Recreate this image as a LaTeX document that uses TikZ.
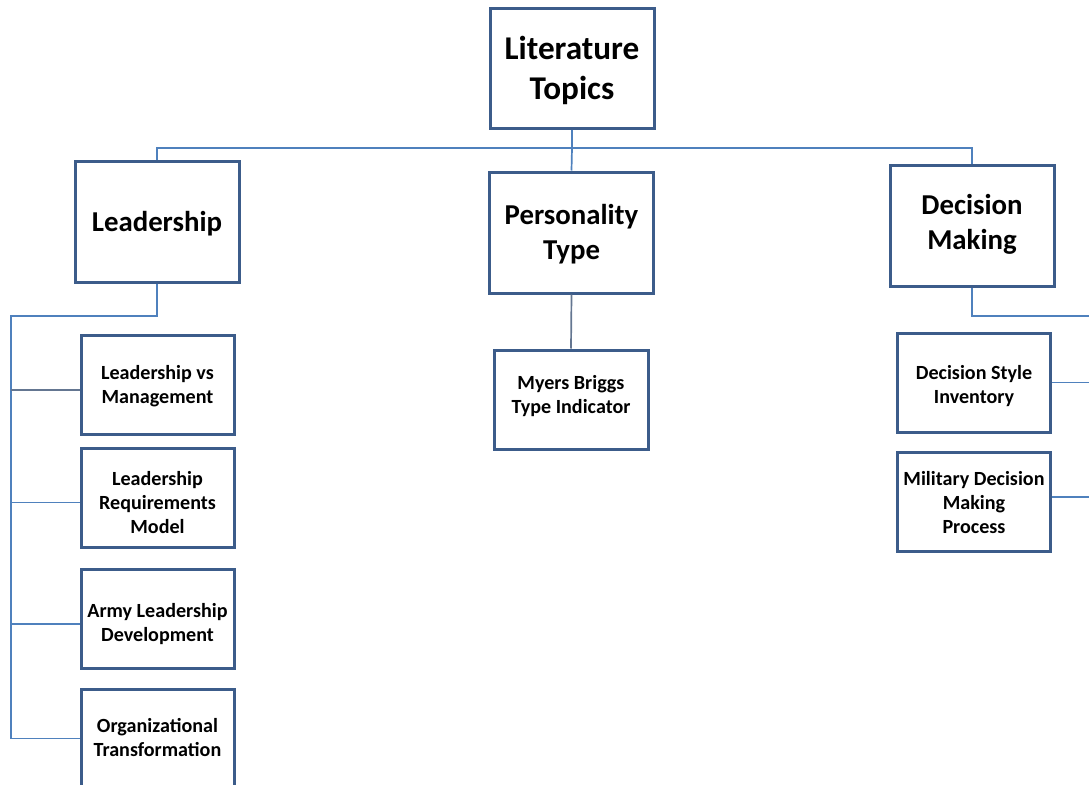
\documentclass[tikz,border=0pt]{standalone}
\usepackage{fontspec}
\setmainfont{Carlito}
\definecolor{boxline}{RGB}{60,92,138}
\definecolor{conn}{RGB}{79,129,189}
\definecolor{conngray}{RGB}{100,118,145}
\newcommand\Tx[2]{\rule{0pt}{\dimexpr 1em+#1pt\relax}#2\rule[\dimexpr -1em+#1pt\relax]{0pt}{0pt}}
\begin{document}
\begin{tikzpicture}[x=1pt,y=-1pt,
  box/.style={draw=boxline,line width=3pt,fill=white,align=center,inner sep=0pt,font=\bfseries},
  topbox/.style={box,minimum width=164pt,minimum height=119pt,font=\fontsize{33.2}{40}\selectfont\bfseries},
  midbox/.style={box,minimum width=164pt,minimum height=121pt,font=\fontsize{28.8}{35}\selectfont\bfseries},
  leafbox/.style={box,minimum width=153pt,minimum height=99pt,font=\fontsize{20.1}{24}\selectfont\bfseries},
  wire/.style={draw=conn,line width=1.7pt},
  wiregray/.style={draw=conngray,line width=1.7pt}]
\clip (0,0) rectangle (1089,784);
\useasboundingbox (0,0) rectangle (1089,784);
% top
\node[topbox] (lit) at (572,68.5) {\Tx{11.2}{Literature\\Topics}};
% level 1
\node[midbox] (lead) at (157,221.5) {\Tx{9.9}{Leadership}};
\node[midbox] (pers) at (571.5,232.5) {\Tx{9.4}{Personality\\Type}};
\node[midbox] (dec) at (972,226) {\Tx{5.8}{Decision\\Making}};
% leadership children
\node[leafbox] (l1) at (157.5,384.5) {\Tx{7.3}{Leadership vs\\Management}};
\node[leafbox] (l2) at (157.5,498) {\Tx{11.3}{Leadership\\Requirements\\Model}};
\node[leafbox] (l3) at (157.5,619) {\Tx{10.8}{Army Leadership\\Development}};
\node[leafbox] (l4) at (157.5,738.5) {\Tx{6.3}{Organizational\\Transformation}};
% personality child
\node[leafbox,minimum width=154pt] (m1) at (571,399.5) {\Tx{2.4}{Myers Briggs\\Type Indicator}};
% decision children
\node[leafbox] (d1) at (974,382.5) {\Tx{9.3}{Decision Style\\Inventory}};
\node[leafbox] (d2) at (974,502) {\Tx{7.8}{Military Decision\\Making\\Process}};
% connectors
\coordinate (bus) at (572,148);
\coordinate (lbus) at (11,316);
\coordinate (rend) at (1089,316);
\draw[wire] (lit.south) -- (bus);
\draw[wire] (lead.north) |- (bus) -| (dec.north);
\draw[wire] (bus) -- (pers.north);
\draw[wiregray] (pers.south) -- (m1.north);
\draw[wire] (lead.south) |- (lbus) -- (lbus |- l4.west);
\draw[wiregray] ([yshift=-5.5pt]l1.west) -- ([yshift=-5.5pt]l1.west -| lbus);
\draw[wire] ([yshift=-4.5pt]l2.west) -- ([yshift=-4.5pt]l2.west -| lbus);
\draw[wire] ([yshift=-5pt]l3.west) -- ([yshift=-5pt]l3.west -| lbus);
\draw[wire] (l4.west) -- (l4.west -| lbus);
\draw[wire] (dec.south) |- (rend);
\draw[wire] (d1.east) -- (d1.east -| rend);
\draw[wire] ([yshift=5pt]d2.east) -- ([yshift=5pt]d2.east -| rend);
\end{tikzpicture}
\end{document}
